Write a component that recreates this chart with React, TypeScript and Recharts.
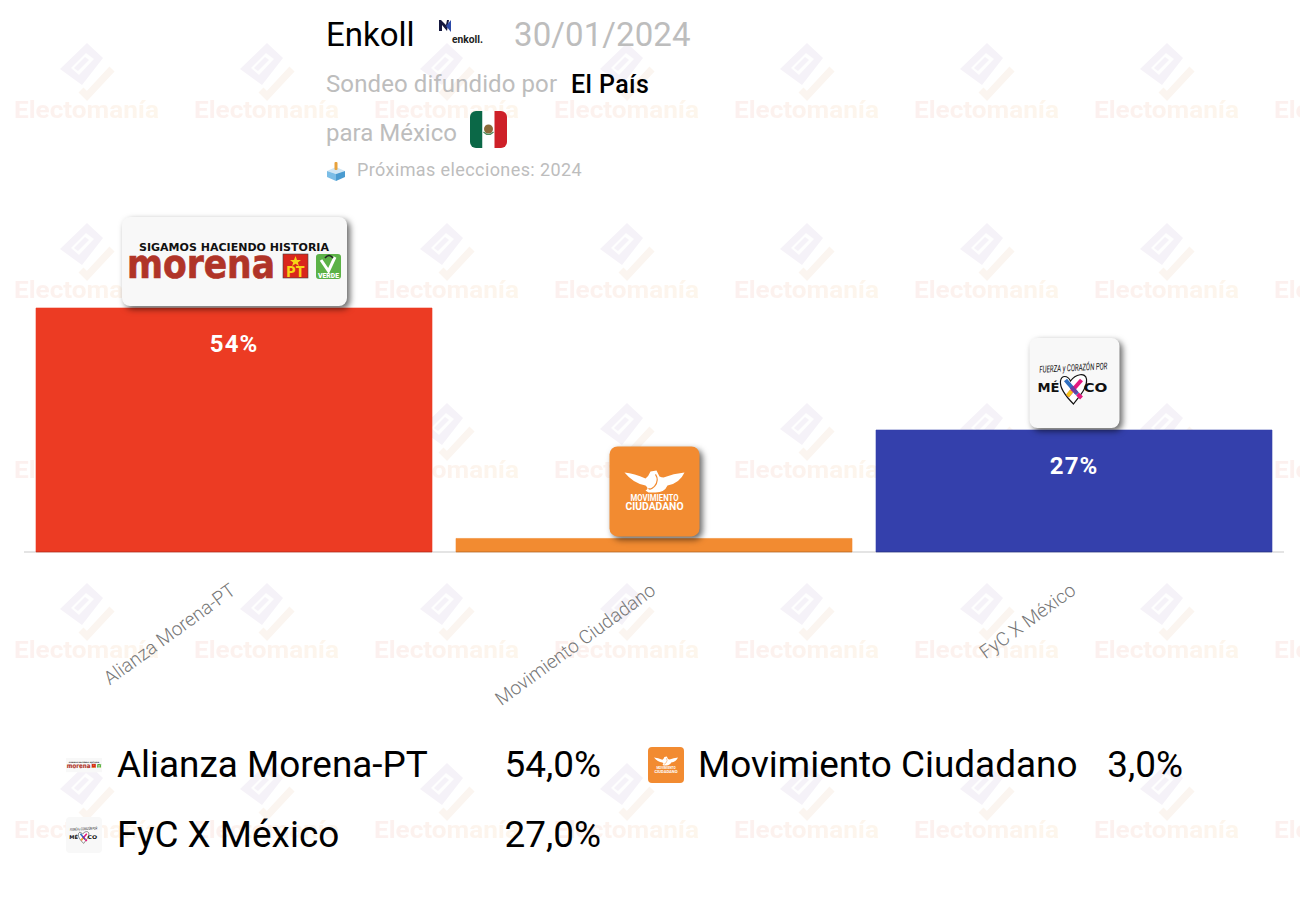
import React from "react";
import { BarChart, Bar, XAxis, YAxis, Cell, LabelList, ReferenceLine } from "recharts";

const categories = ["Alianza Morena-PT", "Movimiento Ciudadano", "FyC X México"];
const values = [54, 3, 27];
const colors = ["#ec3b23", "#f28b31", "#3440ac"];
const barLabels = ["54%", "", "27%"];
const legendValues = ["54,0%", "3,0%", "27,0%"];
const rows = categories.map((name, i) => ({ name, value: values[i] }));

const FONT = "Roboto, sans-serif";
const GREY = "#bdbdbd";

function MorenaLogo() {
  return (
    <g fontFamily={FONT}>
      <text x={17} y={33.5} fontFamily="'DejaVu Sans', sans-serif" fontSize={10} fontWeight={700} fill="#111" textLength={190} lengthAdjust="spacingAndGlyphs">SIGAMOS HACIENDO HISTORIA</text>
      <text transform="translate(5,61) scale(1,1.17)" fontFamily="'DejaVu Sans', sans-serif" fontSize={34.5} fontWeight={700} fill="#b03428" stroke="#b03428" strokeWidth={0.6} textLength={148} lengthAdjust="spacingAndGlyphs">morena</text>
      <rect x={161} y={37} width={25} height={24} fill="#d9261c" stroke="#444" strokeWidth={0.6} />
      <polygon points="173.5,39 175,43 179,43 175.8,45.4 177,49 173.5,46.8 170,49 171.2,45.4 168,43 172,43" fill="#f7d417" />
      <text x={173.5} y={59.5} fontSize={14} fontWeight={900} fill="#f7d417" textAnchor="middle">PT</text>
      <rect x={194} y={37} width={25} height={25} rx={3} fill="#5cb247" />
      <path d="M199 43 L206.5 54 L213 40" fill="none" stroke="#fff" strokeWidth={3} />
      <path d="M203 41 Q207 36 211 41" fill="none" stroke="#222" strokeWidth={1.6} />
      <text x={206.5} y={60.5} fontSize={6.8} fontWeight={900} fill="#fff" textAnchor="middle">VERDE</text>
    </g>
  );
}

function McLogo() {
  return (
    <g fontFamily={FONT}>
      <path d="M15 26 Q25 27 36 32 Q39 30 41 25 L47 24 L50 30 Q52 31 54 31 Q64 27 75 26 Q70 37 58 39 Q55 46 46 46 L39 46 L36 44 Q40 42 36 39 Q24 37 15 26 Z" fill="#fff" />
      <path d="M46 28 Q50 34 45 40 Q41 44 39 42" fill="none" stroke="#f28b31" strokeWidth={1.2} />
      <text x={45} y={54.5} fontSize={8.3} fontWeight={700} fill="#fff" textAnchor="middle" textLength={48} lengthAdjust="spacingAndGlyphs">MOVIMIENTO</text>
      <text x={45} y={64} fontSize={10.5} fontWeight={700} fill="#fff" textAnchor="middle" textLength={58} lengthAdjust="spacingAndGlyphs">CIUDADANO</text>
    </g>
  );
}

function FycLogo() {
  return (
    <g fontFamily={FONT}>
      <text x={44} y={33} fontSize={9.5} fontWeight={400} fontStyle="italic" fill="#111" textAnchor="middle" textLength={68} lengthAdjust="spacingAndGlyphs" transform="rotate(-3 44 33)">FUERZA y CORAZÓN POR</text>
      <path d="M44 66 C36 58 30 50 31 43 C32 37 38 37 41 43 C46 36 56 34 57 41 C58 50 50 58 44 66 Z" fill="#fff" stroke="#111" strokeWidth={1.2} />
      <text x={8} y={54} fontFamily="'DejaVu Sans', sans-serif" fontSize={13} fontWeight={700} fill="#111" textLength={22} lengthAdjust="spacingAndGlyphs">MÉ</text>
      <text x={54} y={54} fontFamily="'DejaVu Sans', sans-serif" fontSize={13} fontWeight={700} fill="#111" textLength={24} lengthAdjust="spacingAndGlyphs">CO</text>
      <line x1={36} y1={42} x2={48} y2={56} stroke="#2f6fc0" strokeWidth={4} />
      <line x1={48} y1={56} x2={52} y2={60} stroke="#e5197f" strokeWidth={4} />
      <line x1={52} y1={42} x2={38} y2={58} stroke="#e5197f" strokeWidth={4} />
      <line x1={38} y1={58} x2={42} y2={53} stroke="#f5c518" strokeWidth={4} />
      <line x1={42} y1={49} x2={47} y2={55} stroke="#6a3fa0" strokeWidth={4} />
    </g>
  );
}

const cardSizes = [
  { w: 225, h: 89, fill: "#f8f8f8", Logo: MorenaLogo },
  { w: 90, h: 90, fill: "#f28b31", Logo: McLogo },
  { w: 90, h: 90, fill: "#f8f8f8", Logo: FycLogo },
];

function BarTopCard(props: any) {
  const { x, y, width, index } = props;
  const card = cardSizes[index];
  const cx = x + width / 2;
  const Logo = card.Logo;
  return (
    <g>
      <g transform={`translate(${cx - card.w / 2 + 0.5},${y - card.h - 2})`}>
        <rect width={card.w} height={card.h} rx={8} fill={card.fill} style={{ filter: "drop-shadow(3px 3px 3px rgba(0,0,0,0.6))" }} />
        <Logo />
      </g>
      {barLabels[index] && (
        <text x={cx} y={y + 44} textAnchor="middle" fontFamily={FONT} fontSize={24} fontWeight={700} letterSpacing={1} fill="#fff">{barLabels[index]}</text>
      )}
    </g>
  );
}

function RotatedTick(props: any) {
  const { x, y, payload } = props;
  return (
    <text
      x={x + 3}
      y={y + 33}
      textAnchor="end"
      fontFamily={FONT}
      fontSize={19}
      fontWeight={300}
      fill="#777"
      transform={`rotate(-36 ${x + 3} ${y + 33})`}
    >
      {payload.value}
    </text>
  );
}

function Watermark() {
  return (
    <svg width={1300} height={900} style={{ position: "absolute", left: 0, top: 0 }}>
      <defs>
        <linearGradient id="wmText" x1="0" x2="1" y1="0" y2="0">
          <stop offset="0" stopColor="#fcf0ef" />
          <stop offset="1" stopColor="#fdf6ec" />
        </linearGradient>
        <pattern id="wm" width={180} height={180} patternUnits="userSpaceOnUse">
          <polygon points="87,43 103,58 82,85 60,69" fill="#f5f2f8" />
          <polygon points="86,53 94,59 79,75 71,68" fill="#fefefe" />
          <polygon points="85,57 89,60 78,71 74,68" fill="#f5f2f8" />
          <path d="M81 90 L87 96 L112 69" fill="none" stroke="#fbf5f0" strokeWidth={7} />
          <text x={14} y={118} fontFamily={FONT} fontSize={23} fontWeight={700} fill="url(#wmText)" textLength={145} lengthAdjust="spacingAndGlyphs">Electomanía</text>
        </pattern>
      </defs>
      <rect width={1300} height={900} fill="url(#wm)" />
    </svg>
  );
}

function Abs({ x, y, size, color = "#000", weight = 400, spacing = 0, children }: any) {
  return (
    <div style={{ position: "absolute", left: x, top: y, fontFamily: FONT, fontSize: size, color, fontWeight: weight, letterSpacing: spacing, lineHeight: 1, whiteSpace: "nowrap" }}>
      {children}
    </div>
  );
}

function Header() {
  return (
    <>
      <Abs x={326} y={18} size={33}>Enkoll</Abs>
      <svg width={48} height={36} style={{ position: "absolute", left: 437, top: 17, overflow: "visible" }}>
        <path d="M2 3 L2 14 L5 14 L5 8 L10 14 L12 3 L10 3 L9 8 L4 3 Z" fill="#15183f" />
        <path d="M9 9 L14 3 L14 15 Z" fill="#2c4aa8" />
        <text x={15} y={26} fontFamily={FONT} fontSize={11.5} fontWeight={700} fill="#222" textLength={31} lengthAdjust="spacingAndGlyphs">enkoll.</text>
      </svg>
      <Abs x={514} y={18} size={33} color={GREY} spacing={0.1}>30/01/2024</Abs>
      <Abs x={326} y={72} size={24} color={GREY} spacing={0.1}>Sondeo difundido por</Abs>
      <Abs x={571} y={72} size={25} weight={500} spacing={0.4}>El País</Abs>
      <Abs x={326} y={121} size={24} color={GREY}>para México</Abs>
      <svg width={37} height={37} style={{ position: "absolute", left: 470, top: 111 }}>
        <defs>
          <clipPath id="flagClip"><rect width={37} height={37} rx={6} /></clipPath>
        </defs>
        <g clipPath="url(#flagClip)">
          <rect width={12.5} height={37} fill="#0b6847" />
          <rect x={12.5} width={12} height={37} fill="#fff" />
          <rect x={24.5} width={12.5} height={37} fill="#ce2028" />
          <circle cx={18.5} cy={18} r={4.5} fill="#8a6a3a" />
          <path d="M13.5 21 Q18.5 26 23.5 21" fill="none" stroke="#4d8a5a" strokeWidth={1.2} />
        </g>
      </svg>
      <svg width={20} height={20} style={{ position: "absolute", left: 326, top: 161 }}>
        <polygon points="10,6 19,10 10,13 1,10" fill="#cfe6f5" />
        <polygon points="1,10 10,13 10,20 1,16" fill="#7bbde6" />
        <polygon points="10,13 19,10 19,16 10,20" fill="#4a9bd0" />
        <rect x={8.5} y={1} width={3} height={8} rx={1} fill="#e8a23c" />
      </svg>
      <Abs x={357} y={161} size={18} color={GREY} spacing={0.4}>Próximas elecciones: 2024</Abs>
    </>
  );
}

const legendSlots = [
  { iconX: 66, y: 766, nameX: 117, valueRight: 601 },
  { iconX: 648, y: 766, nameX: 698, valueRight: 1183 },
  { iconX: 66, y: 836, nameX: 117, valueRight: 601 },
];

function LegendIcon({ index }: { index: number }) {
  const card = cardSizes[index];
  const scale = 36 / card.w;
  const h = card.h * scale;
  const Logo = card.Logo;
  return (
    <svg width={36} height={h} style={{ display: "block", overflow: "visible" }}>
      <g transform={`scale(${scale})`}>
        <rect width={card.w} height={card.h} rx={index === 0 ? 0 : 10} fill={card.fill} />
        <Logo />
      </g>
    </svg>
  );
}

function LegendBlock() {
  return (
    <>
      {categories.map((name, i) => {
        const slot = legendSlots[i];
        const iconH = (cardSizes[i].h * 36) / cardSizes[i].w;
        return (
          <React.Fragment key={name}>
            <div style={{ position: "absolute", left: slot.iconX, top: slot.y - 1 - iconH / 2 }}>
              <LegendIcon index={i} />
            </div>
            <Abs x={slot.nameX} y={slot.y - 19} size={36.9}>{name}</Abs>
            <div style={{ position: "absolute", right: 1300 - slot.valueRight, top: slot.y - 19, fontFamily: FONT, fontSize: 36.9, fontWeight: 400, lineHeight: 1, color: "#000" }}>
              {legendValues[i]}
            </div>
          </React.Fragment>
        );
      })}
    </>
  );
}

export default function App() {
  return (
    <div style={{ position: "absolute", left: 0, top: 0, width: 1300, height: 900, overflow: "hidden", background: "#fff" }}>
      <Watermark />
      <div style={{ position: "absolute", left: 0, top: 0 }}>
        <BarChart width={1300} height={900} data={rows} margin={{ top: 308, right: 16, bottom: 318, left: 24 }} barCategoryGap={12}>
          <YAxis hide domain={[0, 54]} />
          <XAxis dataKey="name" interval={0} height={30} axisLine={false} tickLine={false} tick={<RotatedTick />} />
          <Bar dataKey="value" isAnimationActive={false}>
            {rows.map((r, i) => (
              <Cell key={r.name} fill={colors[i]} stroke={colors[i]} strokeWidth={1} strokeOpacity={0.6} />
            ))}
            <LabelList dataKey="value" content={<BarTopCard />} />
          </Bar>
          <ReferenceLine y={0} stroke="rgba(0,0,0,0.14)" strokeWidth={1.5} />
        </BarChart>
      </div>
      <Header />
      <LegendBlock />
    </div>
  );
}
